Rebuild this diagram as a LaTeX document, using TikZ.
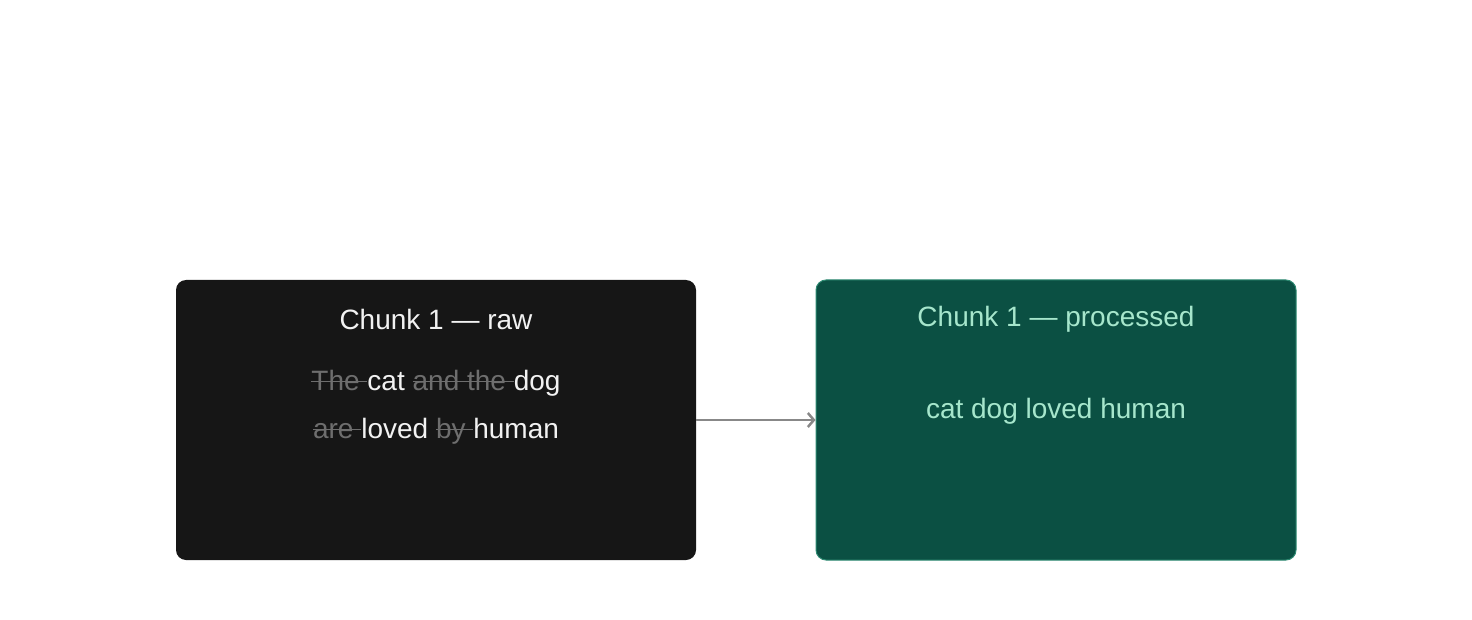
\documentclass[tikz,border=0pt]{standalone}
\usetikzlibrary{arrows.meta}
\usepackage{fontspec}
\setmainfont{Liberation Sans}
\definecolor{rawbg}{HTML}{161616}
\definecolor{procbg}{HTML}{0B5043}
\definecolor{procbd}{HTML}{2E8A72}
\definecolor{proctx}{HTML}{A6E6CC}
\definecolor{wtx}{HTML}{F2F2F2}
\definecolor{gtx}{HTML}{6E6E6E}
\definecolor{arr}{HTML}{888888}
\newcommand\strk[1]{{\color{gtx}\setbox0\hbox{#1}\rlap{\rule[0.28em]{\wd0}{1.4pt}}\box0}}
\begin{document}
\begin{tikzpicture}[x=1pt,y=-1pt,
  box/.style={rounded corners=10pt,minimum width=520pt,minimum height=280pt,inner sep=0pt},
  txt/.style={font=\fontsize{28}{34}\selectfont,inner sep=0pt}]
\useasboundingbox (0,0) rectangle (1472,620);
\node[box,fill=rawbg] (raw) at (436,420) {};
\node[box,fill=procbg,draw=procbd,line width=1pt,minimum width=480pt] (proc) at (1056,420) {};
\node[txt,text=wtx] (t1) at (436,319) {Chunk 1 — raw};
\node[txt,text=wtx] (l1) at (436,383) {\strk{The }cat \strk{and the }dog};
\node[txt,text=wtx] (l2) at (436,431) {\strk{are }loved \strk{by }human};
\node[txt,text=proctx] (t2) at (1056,319) {Chunk 1 — processed};
\node[txt,text=proctx] (p1) at (1056,411) {cat dog loved human};
\draw[arr,line width=2.5pt,-{Straight Barb[length=6pt,width=14pt]}] (raw.east) -- (proc.west);
\end{tikzpicture}
\end{document}
